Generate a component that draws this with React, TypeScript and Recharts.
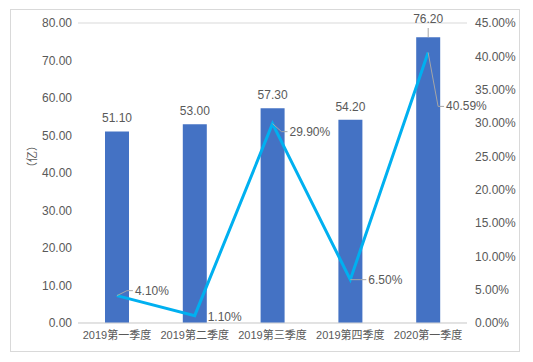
import React from 'react'
import { ComposedChart, Bar, Line, XAxis, YAxis, CartesianGrid, LabelList } from 'recharts'

const quarters = ['2019第一季度', '2019第二季度', '2019第三季度', '2019第四季度', '2020第一季度']
const amounts = [51.1, 53.0, 57.3, 54.2, 76.2]
const growth = [0.041, 0.011, 0.299, 0.065, 0.4059]
const leftTicks = [0, 10, 20, 30, 40, 50, 60, 70, 80]
const rightTicks = [0, 0.05, 0.1, 0.15, 0.2, 0.25, 0.3, 0.35, 0.4, 0.45]

const data = quarters.map((q, i) => ({ name: q, amount: amounts[i], growth: growth[i] }))

const FONT = '"Liberation Sans", Arial, "Noto Sans CJK SC", sans-serif'
const TEXT = '#595959'
const LEADER = '#a6a6a6'

// where each growth label sits relative to its point: [dx, dy, leader?]
const lineLabelPos: [number, number, boolean][] = [
  [18, -5, true],
  [13, 1, false],
  [17, 8, true],
  [18, 0, true],
  [18, 54, true],
]

const BarValueLabel = (props: any) => {
  const { x, y, width, value } = props
  const cx = x + width / 2
  let ly = y - 13
  let leader = false
  if (ly < 26) {
    ly = 19
    leader = true
  }
  return (
    <g>
      {leader && <line x1={cx} y1={28} x2={cx} y2={y} stroke={LEADER} strokeWidth={1} />}
      <text x={cx} y={ly} textAnchor="middle" dominantBaseline="central" fill={TEXT} fontSize={12} fontFamily={FONT}>
        {Number(value).toFixed(2)}
      </text>
    </g>
  )
}

const LineValueLabel = (props: any) => {
  const { x, y, value, index } = props
  const [dx, dy, leader] = lineLabelPos[index]
  const tx = x + dx
  const ty = y + dy
  return (
    <g>
      {leader && (
        <polyline
          points={`${x},${y} ${tx - 8},${ty} ${tx - 2},${ty}`}
          fill="none"
          stroke={LEADER}
          strokeWidth={1}
        />
      )}
      <text x={tx} y={ty} textAnchor="start" dominantBaseline="central" fill={TEXT} fontSize={12} fontFamily={FONT}>
        {(Number(value) * 100).toFixed(2) + '%'}
      </text>
    </g>
  )
}

export default function App() {
  return (
    <div style={{ position: 'absolute', left: 0, top: 0, width: 533, height: 362, background: '#fff' }}>
      <div
        style={{
          position: 'absolute',
          left: 10,
          top: 9,
          width: 510,
          height: 343,
          border: '1px solid #d9d9d9',
          boxSizing: 'border-box',
        }}
      />
      <ComposedChart
        width={533}
        height={362}
        data={data}
        margin={{ top: 23, right: 0, left: 0, bottom: 0 }}
        style={{ position: 'absolute', left: 0, top: 0 }}
      >
        <CartesianGrid vertical={false} stroke="#d9d9d9" />
        <XAxis
          dataKey="name"
          height={39}
          tickLine={false}
          axisLine={{ stroke: '#d9d9d9' }}
          tickSize={0}
          tickMargin={8}
          interval={0}
          tick={{ fill: TEXT, fontSize: 11, fontFamily: FONT }}
        />
        <YAxis
          yAxisId="left"
          width={78}
          domain={[0, 80]}
          ticks={leftTicks}
          axisLine={false}
          tickLine={false}
          tickSize={0}
          tickMargin={6}
          tickFormatter={(v: number) => v.toFixed(2)}
          tick={{ fill: TEXT, fontSize: 12, fontFamily: FONT }}
          label={{
            value: '（亿）',
            angle: -90,
            position: 'insideLeft',
            offset: 32,
            fill: TEXT,
            fontSize: 11,
            fontFamily: FONT,
          }}
        />
        <YAxis
          yAxisId="right"
          orientation="right"
          width={66}
          domain={[0, 0.45]}
          ticks={rightTicks}
          axisLine={false}
          tickLine={false}
          tickSize={0}
          tickMargin={8}
          tickFormatter={(v: number) => (v * 100).toFixed(2) + '%'}
          tick={{ fill: TEXT, fontSize: 12, fontFamily: FONT }}
        />
        <Bar yAxisId="left" dataKey="amount" fill="#4472C4" barSize={24} isAnimationActive={false}>
          <LabelList dataKey="amount" content={BarValueLabel} />
        </Bar>
        <Line
          yAxisId="right"
          dataKey="growth"
          stroke="#00B0F0"
          strokeWidth={3}
          dot={false}
          activeDot={false}
          type="linear"
          isAnimationActive={false}
        >
          <LabelList dataKey="growth" content={LineValueLabel} />
        </Line>
      </ComposedChart>
    </div>
  )
}
